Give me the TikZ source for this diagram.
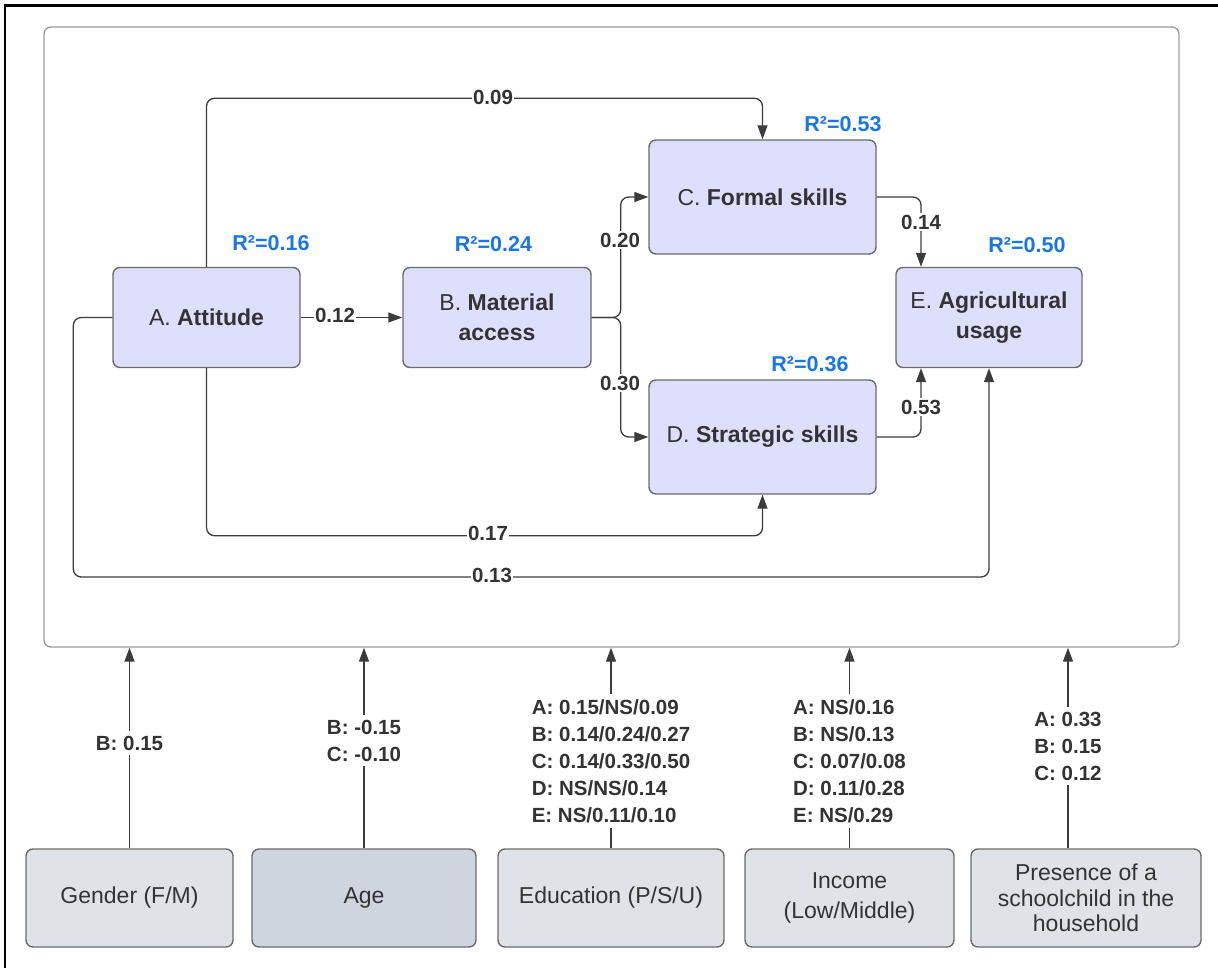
\documentclass[tikz,border=0pt]{standalone}
\usepackage{fontspec}
\setmainfont{Liberation Sans}
\usetikzlibrary{arrows.meta}
\definecolor{lav}{RGB}{222,223,252}
\definecolor{gbox}{RGB}{223,226,231}
\definecolor{agebox}{RGB}{206,213,223}
\definecolor{bord}{RGB}{107,107,107}
\definecolor{cbord}{RGB}{155,155,155}
\definecolor{lnk}{RGB}{60,60,60}
\definecolor{txt}{RGB}{51,51,51}
\definecolor{rblue}{RGB}{24,118,232}
\begin{document}
\begin{tikzpicture}[x=1pt,y=-1pt,
 mainbox/.style={draw=bord, fill=lav, line width=1.4pt, rounded corners=7pt, align=center, text=txt, font=\fontsize{23}{30}\selectfont, inner sep=0pt},
 ctrl/.style={draw=bord, fill=gbox, line width=1.4pt, rounded corners=7pt, align=center, text=txt, inner sep=0pt, minimum height=98pt},
 conn/.style={draw=lnk, line width=1.3pt, rounded corners=8pt, -{Triangle[length=14pt,width=10pt]}},
 lbl/.style={fill=white, text=txt, font=\bfseries\fontsize{20.5}{27}\selectfont, inner sep=2pt},
 rsq/.style={text=rblue, font=\bfseries\fontsize{21.5}{26}\selectfont, inner sep=0pt},
]
\useasboundingbox (0,0) rectangle (1218,968);
% outer frame (top and left)
\draw[line width=2.6pt, black] (1218,5.5) -- (5,5.5) -- (5,968);
% container
\node[draw=cbord, line width=1.4pt, rounded corners=7pt, minimum width=1135pt, minimum height=620pt, inner sep=0pt] (cont) at (611.5,337) {};

% main boxes
\node[mainbox, minimum width=187pt, minimum height=100pt] (A) at (206.5,317.5) {A. \textbf{Attitude}};
\node[mainbox, minimum width=188pt, minimum height=100pt] (B) at (497,317.5) {B. \textbf{Material}\\\textbf{access}};
\node[mainbox, minimum width=227pt, minimum height=114pt] (C) at (762.5,197) {C. \textbf{Formal skills}};
\node[mainbox, minimum width=227pt, minimum height=114pt] (D) at (762.5,437) {D. \textbf{Strategic skills}};
\node[mainbox, minimum width=186pt, minimum height=100pt] (E) at (989,317.5) {E. \textbf{Agricultural}\\\textbf{usage}};

% R squared
\node[rsq] (rA) at (271,243) {R²=0.16};
\node[rsq] (rB) at (493.5,244) {R²=0.24};
\node[rsq] (rC) at (843,124) {R²=0.53};
\node[rsq] (rD) at (810,364) {R²=0.36};
\node[rsq] (rE) at (1027,245) {R²=0.50};

% control boxes
\node[ctrl, minimum width=207pt, font=\fontsize{23}{30}\selectfont] (g) at (129.5,898) {Gender (F/M)};
\node[ctrl, fill=agebox, minimum width=224pt, font=\fontsize{23}{30}\selectfont] (ag) at (364,898) {Age};
\node[ctrl, minimum width=226pt, font=\fontsize{23}{30}\selectfont] (ed) at (611,898) {Education (P/S/U)};
\node[ctrl, minimum width=209pt, font=\fontsize{23}{30}\selectfont] (in) at (849.5,898) {Income\\(Low/Middle)};
\node[ctrl, minimum width=230pt, font=\fontsize{23}{25.5}\selectfont] (pr) at (1086,898) {Presence of a\\schoolchild in the\\household};

% connectors in the model
\draw[conn] (A.north) -- ++(0,-168.5) -| (C.north);
\draw[conn] (A.east) -- (B.west);
\draw[conn] (B.east) -- ++(29,0) |- (C.west);
\draw[conn] (B.east) -- ++(29,0) |- (D.west);
\coordinate (eN) at ([xshift=-68pt]E.north);
\coordinate (eS) at ([xshift=-68pt]E.south);
\draw[conn] (C.east) -| (eN);
\draw[conn] (D.east) -| (eS);
\draw[conn] (A.south) -- ++(0,167.5) -| (D.south);
\draw[conn] (A.west) -- ++(-39,0) -- ++(0,259.5) -| (E.south);

% control arrows
\draw[conn] (g.north) -- (g.north |- cont.south);
\draw[conn] (ag.north) -- (ag.north |- cont.south);
\draw[conn] (ed.north) -- (ed.north |- cont.south);
\draw[conn] (in.north) -- (in.north |- cont.south);
\coordinate (pN) at ([xshift=-18pt]pr.north);
\draw[conn] (pN) -- (pN |- cont.south);

% path labels
\node[lbl, inner sep=1pt] (l09) at (493,97) {0.09};
\node[lbl, inner sep=1pt] (l12) at (335,315) {0.12};
\node[lbl] (l20) at (620,240) {0.20};
\node[lbl] (l30) at (620,383) {0.30};
\node[lbl] (l14) at (921,222) {0.14};
\node[lbl] (l53) at (921,407) {0.53};
\node[lbl, inner sep=1pt] (l17) at (488,533) {0.17};
\node[lbl, inner sep=1pt] (l13) at (492,575) {0.13};

% control labels
\node[lbl, align=left, inner sep=5pt] (lg) at (129.5,743) {B: 0.15};
\node[lbl, align=left, inner sep=5pt] (lag) at (364,740.5) {B: -0.15\\C: -0.10};
\node[lbl, align=left, inner sep=5pt] (led) at (611,761) {A: 0.15/NS/0.09\\B: 0.14/0.24/0.27\\C: 0.14/0.33/0.50\\D: NS/NS/0.14\\E: NS/0.11/0.10};
\node[lbl, align=left, inner sep=5pt] (lin) at (849.5,761) {A: NS/0.16\\B: NS/0.13\\C: 0.07/0.08\\D: 0.11/0.28\\E: NS/0.29};
\node[lbl, align=left, inner sep=5pt] (lpr) at (1068,746) {A: 0.33\\B: 0.15\\C: 0.12};
\end{tikzpicture}
\end{document}
